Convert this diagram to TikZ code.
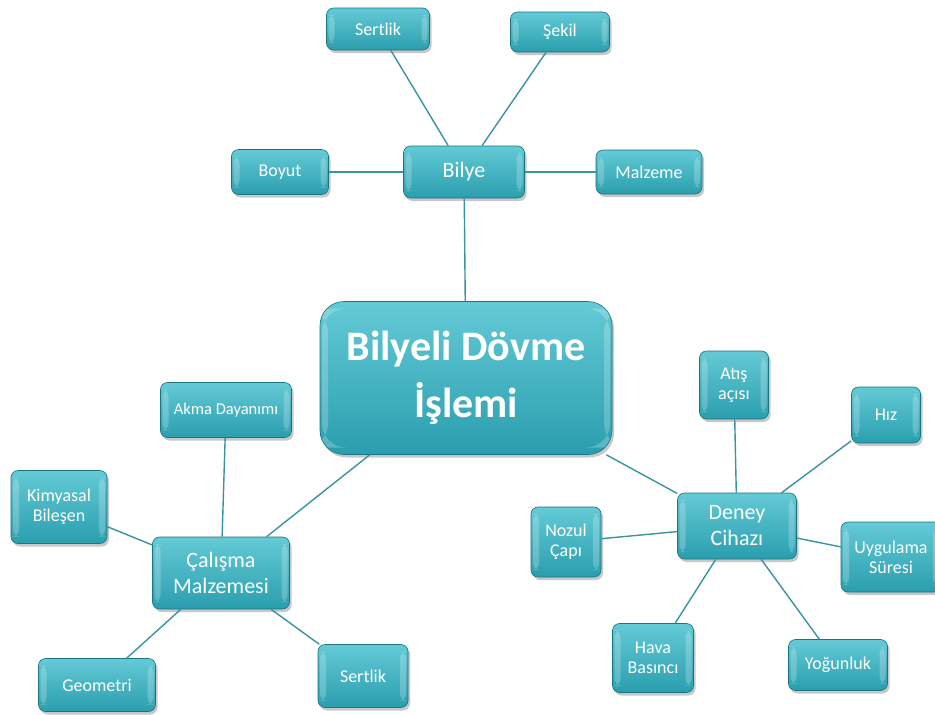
\documentclass[tikz,border=0pt]{standalone}
\usepackage{fontspec}
\setmainfont{Carlito}
\usepackage{xcolor}
\usetikzlibrary{shadows}

\definecolor{tealtop}{RGB}{100,202,214}
\definecolor{tealbot}{RGB}{42,158,174}
\definecolor{tealedge}{RGB}{26,116,130}
\definecolor{linkcol}{RGB}{58,148,160}

\begin{document}
\begin{tikzpicture}[
  x=1pt,y=-1pt,
  box/.style={draw=tealedge,line width=0.6pt,top color=tealtop,bottom color=tealbot,
    rounded corners=7pt,text=white,align=center,inner sep=2pt,
    drop shadow={shadow xshift=2pt,shadow yshift=-3pt,opacity=0.3,fill=black!70},
    path picture={
      \fill[white,opacity=0.22] ([xshift=2pt,yshift=-7pt]path picture bounding box.north west)
        rectangle ([xshift=8pt,yshift=7pt]path picture bounding box.south west);
      \fill[white,opacity=0.22] ([xshift=-2pt,yshift=-7pt]path picture bounding box.north east)
        rectangle ([xshift=-8pt,yshift=7pt]path picture bounding box.south east);
    }},
  sz/.style 2 args={minimum width=#1pt,minimum height=#2pt},
  hub/.style={box,rounded corners=24pt,font=\fontsize{42}{57}\selectfont\bfseries},
  mid/.style={box,font=\fontsize{22}{26}\selectfont},
  leaf/.style={box,font=\fontsize{18}{20}\selectfont},
  link/.style={draw=linkcol,line width=1.4pt}
]
\useasboundingbox[fill=white] (0,0) rectangle (935,715);

% centre
\node[hub,sz={292}{153}] (hub) at (466,378) {Bilyeli Dövme\\İşlemi};

% top branch
\node[mid,sz={121}{52}] (bilye) at (464,172) {Bilye};
\node[leaf,sz={103}{42}] (sertlikA) at (378,29) {Sertlik};
\node[leaf,sz={99}{40}] (sekil) at (560,32) {Şekil};
\node[leaf,sz={97}{45}] (boyut) at (280,172) {Boyut};
\node[leaf,sz={106}{44}] (malzeme) at (649,172) {Malzeme};

% left branch
\node[mid,sz={137}{72}] (calisma) at (221,573) {Çalışma\\Malzemesi};
\node[leaf,sz={131}{55},font=\fontsize{16.5}{18}\selectfont] (akma) at (226,410) {Akma Dayanımı};
\node[leaf,sz={96}{73}] (kimya) at (59,507) {Kimyasal\\Bileşen};
\node[leaf,sz={117}{53}] (geometri) at (97,685) {Geometri};
\node[leaf,sz={90}{63}] (sertlikB) at (363,676) {Sertlik};

% right branch
\node[mid,sz={119}{66}] (deney) at (737,526) {Deney\\Cihazı};
\node[leaf,sz={69}{68}] (atis) at (734,385) {Atış\\açısı};
\node[leaf,sz={69}{56}] (hiz) at (886,415) {Hız};
\node[leaf,sz={70}{70}] (nozul) at (566,542) {Nozul\\Çapı};
\node[leaf,sz={100}{70}] (uygulama) at (891,557) {Uygulama\\Süresi};
\node[leaf,sz={81}{69}] (hava) at (653,658) {Hava\\Basıncı};
\node[leaf,sz={99}{51}] (yogunluk) at (838,665) {Yoğunluk};

% connectors
\draw[link] (hub) -- (bilye);
\draw[link] (hub) -- (calisma);
\draw[link] (hub) -- (deney);
\draw[link] (bilye) -- (sertlikA);
\draw[link] (bilye) -- (sekil);
\draw[link] (bilye) -- (boyut);
\draw[link] (bilye) -- (malzeme);
\draw[link] (calisma) -- (akma);
\draw[link] (calisma) -- (kimya);
\draw[link] (calisma) -- (geometri);
\draw[link] (calisma) -- (sertlikB);
\draw[link] (deney) -- (atis);
\draw[link] (deney) -- (hiz);
\draw[link] (deney) -- (nozul);
\draw[link] (deney) -- (uygulama);
\draw[link] (deney) -- (hava);
\draw[link] (deney) -- (yogunluk);

\end{tikzpicture}
\end{document}
